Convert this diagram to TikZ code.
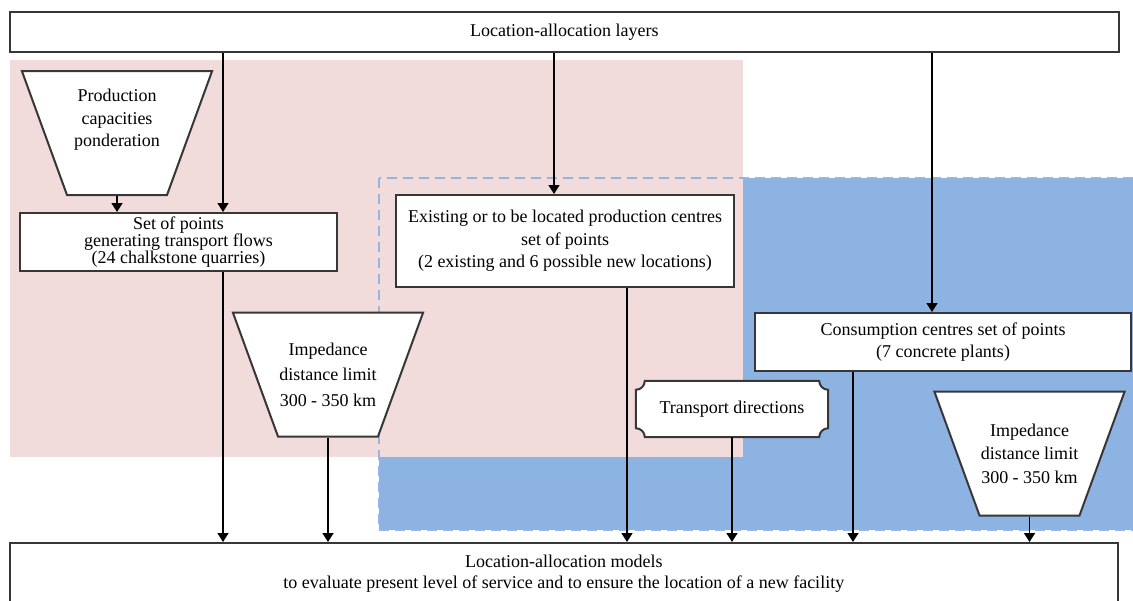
\documentclass[tikz,border=0pt]{standalone}
\usepackage{fontspec}
\setmainfont{Liberation Serif}
\usetikzlibrary{shapes.geometric,arrows.meta}
\definecolor{pinkbg}{RGB}{242,220,219}
\definecolor{bluebg}{RGB}{141,179,226}
\definecolor{bluedash}{RGB}{150,182,224}
\definecolor{edgegray}{RGB}{55,55,55}
\newcommand{\traptext}[2][0pt]{\parbox[c][80pt][c]{100pt}{\centering #2\par\vspace{#1}}}
\begin{document}
\begin{tikzpicture}[x=1pt,y=1pt,
  box/.style={draw=edgegray,line width=2pt,fill=white,inner sep=0pt,align=center,
    font=\fontsize{18}{22}\selectfont},
  trap/.style={draw=edgegray,line width=2pt,fill=white,trapezium,inner xsep=0pt,inner ysep=22pt,
    shape border rotate=180,trapezium left angle=70,trapezium right angle=70},
  arr/.style={line width=1.6pt,-{Triangle[width=11pt,length=9pt]}}]
\useasboundingbox (0,0) rectangle (1133,-600);

\fill[bluebg] (379,-178) rectangle (1140,-530);
\fill[pinkbg] (9.6,-60) rectangle (743,-457);
\draw[bluedash,line width=2pt,dash pattern=on 10pt off 6pt] (379,-178) rectangle (1140,-530);

\node[box,minimum width=1109pt,minimum height=40pt] (top) at (564.3,-31.7) {Location-allocation layers};

\node[trap,font=\fontsize{18}{22.5}\selectfont] (ppc) at (117,-133)
  {\traptext[26pt]{Production\\capacities\\ponderation}};
\node[box,minimum width=317pt,minimum height=58pt,font=\fontsize{18}{17}\selectfont] (pts) at (178.5,-242)
  {Set of points\\generating transport flows\\(24 chalkstone quarries)};

\node[box,minimum width=338pt,minimum height=92pt,font=\fontsize{18}{22.5}\selectfont] (exist) at (565,-241)
  {Existing or to be located production centres\\set of points\\(2 existing and 6 possible new locations)};
\node[trap,font=\fontsize{18}{25.5}\selectfont] (imp1) at (328,-374.5)
  {\traptext{Impedance\\distance limit\\300 - 350 km}};

\node[box,minimum width=376pt,minimum height=58pt] (cons) at (943,-342) {Consumption centres set of points\\(7 concrete plants)};
\node[inner sep=0pt,minimum width=192pt,minimum height=56pt] (dirs) at (732,-409) {};
\filldraw[draw=edgegray,fill=white,line width=2pt]
  ([xshift=9pt]dirs.north west) -- ([xshift=-9pt]dirs.north east) arc[start angle=180,end angle=270,radius=9pt]
  -- ([yshift=9pt]dirs.south east) arc[start angle=90,end angle=180,radius=9pt]
  -- ([xshift=9pt]dirs.south west) arc[start angle=0,end angle=90,radius=9pt]
  -- ([yshift=-9pt]dirs.north west) arc[start angle=270,end angle=360,radius=9pt] -- cycle;
\node[font=\fontsize{18}{22}\selectfont] (dirstext) at (dirs) {Transport directions};
\node[trap,font=\fontsize{18}{23.5}\selectfont] (imp2) at (1029.5,-453.5)
  {\traptext{Impedance\\distance limit\\300 - 350 km}};

\node[box,minimum width=1108pt,minimum height=61pt,font=\fontsize{18}{21}\selectfont] (models) at (563.8,-573.5)
  {Location-allocation models\\to evaluate present level of service and to ensure the location of a new facility};

\coordinate (xa) at (223,0);
\coordinate (xb) at (554,0);
\coordinate (xc) at (627,0);
\coordinate (xd) at (932,0);
\coordinate (xe) at (853,0);

\draw[arr] (ppc.south) -- (ppc.south |- pts.north);
\draw[arr] (top.south -| xa) -- (pts.north -| xa);
\draw[arr] (pts.south -| xa) -- (models.north -| xa);
\draw[arr] (top.south -| xb) -- (exist.north -| xb);
\draw[arr] (exist.south -| xc) -- (models.north -| xc);
\draw[arr] (imp1.south) -- (imp1.south |- models.north);
\draw[arr] (top.south -| xd) -- (cons.north -| xd);
\draw[arr] (cons.south -| xe) -- (models.north -| xe);
\draw[arr] (dirs.south) -- (dirs.south |- models.north);
\draw[arr] (imp2.south) -- (imp2.south |- models.north);
\end{tikzpicture}
\end{document}
